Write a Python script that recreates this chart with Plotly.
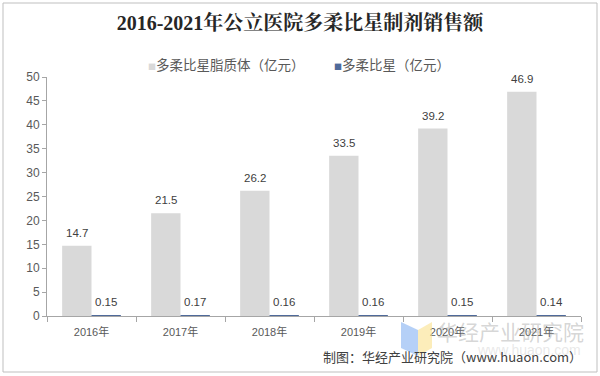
import plotly.graph_objects as go

years = ["2016年", "2017年", "2018年", "2019年", "2020年", "2021年"]
liposome = [14.7, 21.5, 26.2, 33.5, 39.2, 46.9]
doxorubicin = [0.15, 0.17, 0.16, 0.16, 0.15, 0.14]
y_ticks = [0, 5, 10, 15, 20, 25, 30, 35, 40, 45, 50]
series_names = ["多柔比星脂质体（亿元）", "多柔比星（亿元）"]
series_colors = ["#D9D9D9", "#4F6A9A"]

W, H = 600, 376
L, R, T, B = 47, 19, 77, 60
pw, ph = W - L - R, H - T - B
BARGAP = 0.34
bar_px = pw / len(years) * (1 - BARGAP) / 2

def px(x):
    return (x - L) / pw

def py(y):
    return (H - B - y) / ph

lab_font = dict(size=11.5, color="#404040", family="Liberation Sans, Arial")

fig = go.Figure()
fig.add_bar(x=years, y=liposome, name=series_names[0],
            marker=dict(color=series_colors[0], line=dict(width=0)), showlegend=False)
fig.add_bar(x=years, y=doxorubicin, name=series_names[1],
            marker=dict(color=series_colors[1], line=dict(width=0)), showlegend=False)

# data labels, anchored to the data through the axes
for vals, fmt, sign in [(liposome, "{}", -1), (doxorubicin, "{:.2f}", 1)]:
    for yr, v in zip(years, vals):
        fig.add_annotation(x=yr, y=v, xref="x", yref="y", text=fmt.format(v),
                           xshift=sign * bar_px / 2, yshift=13, yanchor="middle",
                           showarrow=False, font=lab_font)

fig.update_layout(
    width=W, height=H,
    margin=dict(l=L, r=R, t=T, b=B, pad=0),
    paper_bgcolor="white", plot_bgcolor="white",
    barmode="group", bargap=BARGAP, bargroupgap=0,
    font=dict(family="Liberation Sans, Noto Sans CJK SC", color="#595959", size=11),
    title=dict(text="<b>2016-2021年公立医院多柔比星制剂销售额</b>",
               x=0.5, xanchor="center", y=1 - 23 / H, yanchor="middle",
               font=dict(family="Liberation Serif, Noto Serif CJK SC, Noto Sans CJK SC", size=20, color="#262626")),
    showlegend=False,
    xaxis=dict(showline=True, linecolor="#A6A6A6", linewidth=1,
               ticks="outside", tickson="boundaries", ticklen=5, tickcolor="#A6A6A6",
               ticklabelstandoff=6,
               tickfont=dict(size=11, color="#595959", family="Liberation Sans, Noto Sans CJK SC"),
               showgrid=False, fixedrange=True),
    yaxis=dict(range=[0, 50], tickvals=y_ticks, showline=True, linecolor="#A6A6A6", linewidth=1,
               ticks="outside", ticklen=4, tickcolor="#A6A6A6",
               tickfont=dict(size=12, color="#595959", family="Liberation Sans, Arial"),
               showgrid=False, zeroline=False, fixedrange=True),
)

# legend (small square markers set directly before the text, as in the reference)
legend_x = [146, 332]
for name, color, lx in zip(series_names, series_colors, legend_x):
    fig.add_annotation(
        text=f'<span style="font-size:8px;color:{color}">■</span>{name}',
        xref="paper", yref="paper", x=px(lx), y=py(64), xanchor="left", yanchor="middle",
        showarrow=False, font=dict(size=13.5, color="#595959", family="Noto Sans CJK SC"))

# outer frame
fig.add_shape(type="rect", xref="paper", yref="paper",
              x0=px(3), x1=px(597), y0=py(372), y1=py(3),
              line=dict(color="#BFBFBF", width=1), fillcolor="rgba(0,0,0,0)", layer="below")

# watermark
fig.add_annotation(text="华经产业研究院", xref="paper", yref="paper",
                   x=px(586), y=py(331), xanchor="right", yanchor="middle", showarrow=False,
                   font=dict(size=21, color="rgba(150,150,150,0.40)", family="Noto Sans CJK SC"))
fig.add_annotation(text="www.huaon.com", xref="paper", yref="paper",
                   x=px(583), y=py(350), xanchor="right", yanchor="middle", showarrow=False,
                   font=dict(size=14, color="rgba(190,190,190,0.35)", family="Liberation Sans"))
fig.add_shape(type="path", xref="paper", yref="paper",
              path=f"M {px(401)},{py(322)} L {px(418)},{py(330)} L {px(418)},{py(356)} L {px(401)},{py(348)} Z",
              line=dict(width=0), fillcolor="rgba(120,170,240,0.55)")
fig.add_shape(type="path", xref="paper", yref="paper",
              path=f"M {px(418)},{py(330)} L {px(432)},{py(322)} L {px(432)},{py(348)} L {px(418)},{py(356)} Z",
              line=dict(width=0), fillcolor="rgba(250,225,140,0.6)")

# source note
fig.add_annotation(text="制图：华经产业研究院（www.huaon.com）", xref="paper", yref="paper",
                   x=px(584), y=py(356), xanchor="right", yanchor="middle", showarrow=False,
                   font=dict(size=13, color="#404040", family="Noto Sans CJK SC"))

fig.write_html("out.html", post_script="document.body.style.margin='0';",
               config={"displayModeBar": False})
